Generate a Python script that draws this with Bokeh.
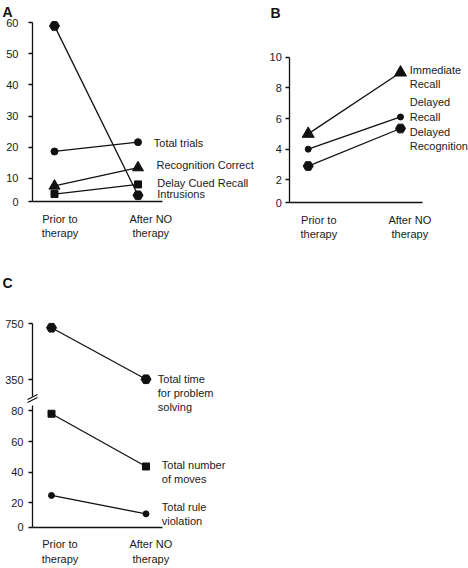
from bokeh.plotting import figure
from bokeh.models import (ColumnDataSource, LabelSet, Label, FixedTicker,
                          CustomJSTickFormatter, Range1d, LinearAxis, Arrow)
from bokeh.core.properties import value
from bokeh.layouts import column, row
from bokeh.embed import file_html
from bokeh.resources import INLINE

# ---------------- data ----------------
x_pos = [0, 1]
x_labels = ["Prior to\ntherapy", "After NO\ntherapy"]

# Panel A
a_series = ["Total trials", "Recognition Correct", "Delay Cued Recall", "Intrusions"]
a_prior = [18.6, 7.5, 4.9, 59.0]
a_after = [21.6, 13.4, 8.0, 4.5]
a_markers = ["circle", "triangle", "square", "hex"]
a_y_ticks = [0, 10, 20, 30, 40, 50, 60]

# Panel B
b_series = ["Immediate\nRecall", "Delayed\nRecall", "Delayed\nRecognition"]
b_prior = [5.0, 4.0, 2.9]
b_after = [9.0, 6.1, 5.35]
b_markers = ["triangle", "circle", "hex"]
b_y_ticks = [0, 2, 4, 6, 8, 10]

# Panel C (upper part of the broken axis)
c_up_series = ["Total time\nfor problem\nsolving"]
c_up_prior = [722]
c_up_after = [354]
c_up_markers = ["hex"]
c_up_ticks = [350, 750]

# Panel C (lower part)
c_series = ["Total number\nof moves", "Total rule\nviolation"]
c_prior = [78.2, 24.9]
c_after = [43.8, 12.9]
c_markers = ["square", "circle"]
c_y_ticks = [0, 20, 40, 60, 80]

# ---------------- styles / layout ----------------
FONT = "Liberation Sans"
INK = "#111111"
TXT = "#1a1a1a"
marker_size = {"A": {"circle": 7, "triangle": 11, "square": 7, "hex": 10},
               "B": {"circle": 6, "triangle": 12, "square": 7, "hex": 10},
               "C": {"circle": 6, "triangle": 11, "square": 7, "hex": 10}}


def fmt(ticks, labels):
    return CustomJSTickFormatter(args=dict(t=ticks, l=labels), code="""
        let best = -1, bd = 1e9;
        for (let i = 0; i < t.length; i++) {
            const d = Math.abs(t[i] - tick);
            if (d < bd) { bd = d; best = i; }
        }
        return best < 0 ? '' : l[best];
    """)


def make_fig(w, h, xr, yr):
    p = figure(width=w, height=h, x_range=Range1d(*xr), y_range=Range1d(*yr),
               output_backend="svg", toolbar_location=None, title=None,
               min_border=0)
    p.grid.visible = False
    p.outline_line_color = None
    p.background_fill_color = "white"
    p.border_fill_color = "white"
    return p


def style_axis(ax, standoff, tick_out, size="11px"):
    ax.axis_line_color = INK
    ax.axis_line_width = 1.3
    ax.major_tick_line_color = INK if tick_out else None
    ax.major_tick_line_width = 1.3
    ax.major_tick_out = tick_out
    ax.major_tick_in = 0
    ax.minor_tick_line_color = None
    ax.major_label_text_font = FONT
    ax.major_label_text_font_size = size
    ax.major_label_text_color = TXT
    ax.major_label_standoff = standoff


def set_x_axis(p, label_pos, bounds, at_y):
    ax = p.xaxis[0]
    style_axis(ax, 11, 0)
    ax.ticker = FixedTicker(ticks=label_pos)
    ax.formatter = fmt(label_pos, x_labels)
    ax.bounds = bounds
    ax.fixed_location = at_y


def set_y_axis(ax, ticks, y0, top, at_x, standoff, tick_out):
    style_axis(ax, standoff, tick_out)
    locs = [y0 if t == 0 else t for t in ticks]
    ax.ticker = FixedTicker(ticks=locs)
    ax.formatter = fmt(locs, [str(t) for t in ticks])
    ax.bounds = (y0, top)
    ax.fixed_location = at_x


def draw_series(p, prior, after, markers, sizes, range_name="default"):
    for pr, af, m in zip(prior, after, markers):
        src = ColumnDataSource(dict(x=x_pos, y=[pr, af]))
        p.line("x", "y", source=src, line_color=INK, line_width=1.3,
               y_range_name=range_name)
        p.scatter("x", "y", source=src, marker=m, size=sizes[m],
                  fill_color=INK, line_color=INK, y_range_name=range_name)


def add_labels(p, names, lx, ly, range_name="default"):
    src = ColumnDataSource(dict(x=lx, y=ly, t=names))
    p.add_layout(LabelSet(x="x", y="y", text="t", source=src,
                          text_font=value(FONT), text_font_size=value("11px"),
                          text_color=value(TXT), text_align=value("left"),
                          text_baseline=value("middle"), y_range_name=range_name))


def letter(p, txt, x, y, range_name="default"):
    p.add_layout(Label(x=x, y=y, text=txt, text_font=FONT, text_font_size="14px",
                       text_font_style="bold", text_color=INK, text_align="left",
                       text_baseline="alphabetic", y_range_name=range_name))


# ---------------- Panel A ----------------
pA = make_fig(262, 248, (-0.6467, 2.491), (-12.62, 67.175))
set_x_axis(pA, [0.066, 1.153], (-0.2635, 1.293), 2.41)
set_y_axis(pA.yaxis[0], a_y_ticks, 2.41, 60, -0.2635, 10, 4)
draw_series(pA, a_prior, a_after, a_markers, marker_size["A"])
add_labels(pA, a_series, [1.189, 1.222, 1.230, 1.230], [21.4, 14.1, 8.5, 5.0])
letter(pA, "A", -0.623, 63.41)

# ---------------- Panel B ----------------
pB = make_fig(206, 248, (-0.4951, 1.7367), (-2.479, 13.699))
set_x_axis(pB, [0.115, 1.101], (-0.1994, 1.2351), 0.502)
set_y_axis(pB.yaxis[0], b_y_ticks, 0.502, 10, -0.1994, 4, 4)
draw_series(pB, b_prior, b_after, b_markers, marker_size["B"])
add_labels(pB, b_series, [1.1008, 1.1008, 1.1008], [8.72, 6.60, 4.65])
letter(pB, "B", -0.4085, 12.916)

# ---------------- Panel C ----------------
pC = make_fig(262, 320, (-0.5397, 2.2328), (-22.74, 186.0))
pC.extra_y_ranges = {"upper": Range1d(-997.9, 1287.9)}
set_x_axis(pC, [0.09, 1.051], (-0.2011, 1.1714), 4.01)
set_y_axis(pC.yaxis[0], c_y_ticks, 4.01, 83.59, -0.2011, 5, 4)
up_ax = LinearAxis(y_range_name="upper")
style_axis(up_ax, 5, 4)
up_ax.ticker = FixedTicker(ticks=c_up_ticks)
up_ax.formatter = fmt(c_up_ticks, [str(t) for t in c_up_ticks])
up_ax.bounds = (230.7, 750)
up_ax.fixed_location = -0.2011
pC.add_layout(up_ax, "left")
draw_series(pC, c_up_prior, c_up_after, c_up_markers, marker_size["C"], "upper")
draw_series(pC, c_prior, c_after, c_markers, marker_size["C"])
add_labels(pC, c_up_series, [1.125], [255.7], "upper")
add_labels(pC, c_series, [1.167, 1.167], [40.1, 12.7])
letter(pC, "C", -0.5185, 1037.9, "upper")
for ys, ye in [(209.3, 245.0), (188.0, 223.6)]:
    pC.add_layout(Arrow(end=None, x_start=-0.254, y_start=ys, x_end=-0.148, y_end=ye,
                        line_color=INK, line_width=1.2, y_range_name="upper"))

layout = column(row(pA, pB), pC)
open("out.html", "w").write(file_html(layout, INLINE))
